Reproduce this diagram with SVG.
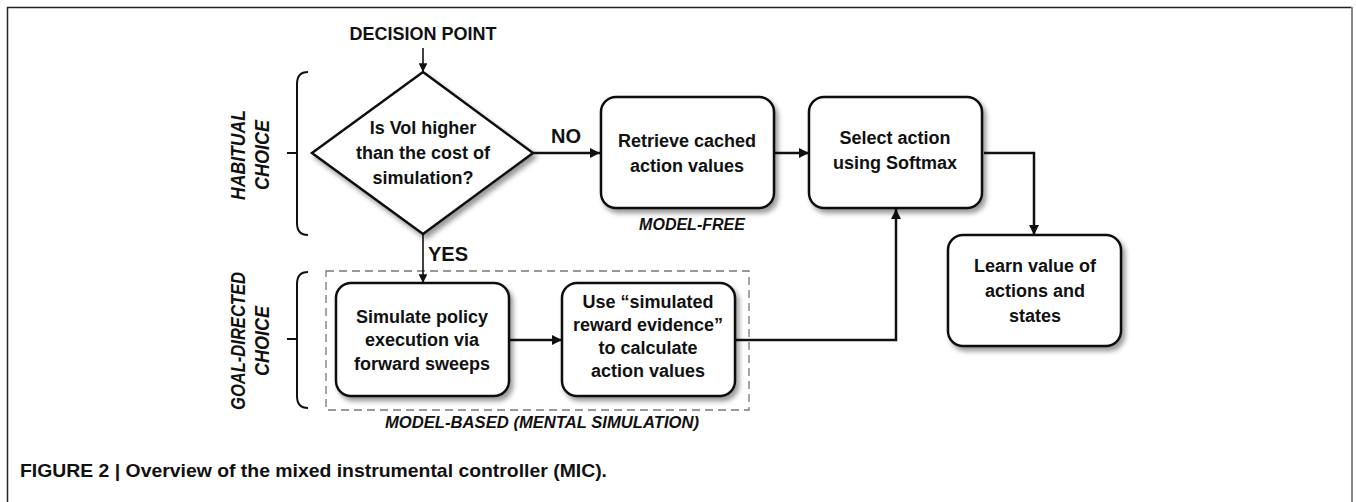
<svg xmlns="http://www.w3.org/2000/svg" width="1356" height="502" viewBox="0 0 1356 502">
<style>
.box{fill:#fff;stroke:#111;stroke-width:2.5}
.t{font-family:"Liberation Sans",Arial,sans-serif;font-weight:bold;font-size:18px;fill:#111;text-anchor:middle}
.lbl{font-family:"Liberation Sans",Arial,sans-serif;font-weight:bold;font-size:20px;fill:#111;text-anchor:middle}
.it{font-family:"Liberation Sans",Arial,sans-serif;font-weight:bold;font-style:italic;font-size:16px;fill:#111;text-anchor:middle}
.side{font-family:"Liberation Sans",Arial,sans-serif;font-weight:bold;font-style:italic;font-size:20px;fill:#111;text-anchor:middle}
.conn{fill:none;stroke:#111;stroke-width:2.5}
.thin{fill:none;stroke:#111;stroke-width:1.6}
.brace{fill:none;stroke:#111;stroke-width:2}
</style>
<defs>
<marker id="ah" viewBox="0 0 10 10" refX="10" refY="5" markerWidth="4" markerHeight="4" markerUnits="strokeWidth" orient="auto">
<path d="M0,0 L10,5 L0,10 z" fill="#111"/>
</marker>
<marker id="ah2" viewBox="0 0 10 10" refX="10" refY="5" markerWidth="5.5" markerHeight="5.5" markerUnits="strokeWidth" orient="auto">
<path d="M0,0 L10,5 L0,10 z" fill="#111"/>
</marker>
<filter id="sh" x="-10%" y="-10%" width="130%" height="130%">
<feDropShadow dx="3" dy="4" stdDeviation="2.5" flood-color="#000" flood-opacity="0.4"/>
</filter>
</defs>
<rect x="0" y="0" width="1356" height="502" fill="#fff"/>
<g id="frame">
<line x1="7" y1="7.5" x2="1352" y2="7.5" stroke="#222" stroke-width="1.5"/>
<line x1="7.5" y1="7" x2="7.5" y2="502" stroke="#222" stroke-width="1.5"/>
<line x1="1352" y1="7" x2="1352" y2="502" stroke="#888" stroke-width="2"/>
</g>
<g id="decision-point"><text class="t" x="423" y="40">DECISION POINT</text></g>
<g id="habitual-label">
<path class="brace" d="M308,72 Q297,72 297,84 L297,223 Q297,235 308,235 M287,153 L297,153"/>
<text class="side" transform="translate(245,155) rotate(-90)" textLength="90" lengthAdjust="spacingAndGlyphs">HABITUAL</text>
<text class="side" transform="translate(269,155) rotate(-90)" textLength="70" lengthAdjust="spacingAndGlyphs">CHOICE</text>
</g>
<g id="goal-label">
<path class="brace" d="M308,272 Q297,272 297,284 L297,396 Q297,408 308,408 M287,339 L297,339"/>
<text class="side" transform="translate(245,341) rotate(-90)" textLength="138" lengthAdjust="spacingAndGlyphs">GOAL-DIRECTED</text>
<text class="side" transform="translate(269,341) rotate(-90)" textLength="70" lengthAdjust="spacingAndGlyphs">CHOICE</text>
</g>
<g id="model-based-group">
<rect x="326" y="271" width="423" height="139" fill="none" stroke="#777" stroke-width="1.3" stroke-dasharray="8 5"/>
<text class="it" x="542" y="428" textLength="314" lengthAdjust="spacingAndGlyphs">MODEL-BASED (MENTAL SIMULATION)</text>
</g>
<g id="connectors">
<path class="thin" d="M423,48 L423,72" marker-end="url(#ah2)"/>
<path class="conn" d="M533,153 L600,153" marker-end="url(#ah)"/>
<path class="conn" d="M774,153 L809,153" marker-end="url(#ah)"/>
<path class="conn" d="M984,153 L1034,153 L1034,235" marker-end="url(#ah)"/>
<path class="thin" d="M423,234 L423,283" marker-end="url(#ah2)"/>
<path class="conn" d="M509,340 L562,340" marker-end="url(#ah)"/>
<path class="conn" d="M735,340 L896,340 L896,209" marker-end="url(#ah)"/>
<text class="lbl" x="566" y="143">NO</text>
<text class="lbl" x="448" y="261">YES</text>
</g>
<g id="diamond">
<polygon class="box" filter="url(#sh)" points="423,72 533,153 423,234 312,153"/>
<text class="t" x="423" y="134">Is VoI higher</text>
<text class="t" x="423" y="159">than the cost of</text>
<text class="t" x="423" y="184">simulation?</text>
</g>
<g id="retrieve">
<rect class="box" filter="url(#sh)" x="601" y="97" width="173" height="111" rx="15"/>
<text class="t" x="687" y="147">Retrieve cached</text>
<text class="t" x="687" y="172">action values</text>
<text class="it" x="692" y="230">MODEL-FREE</text>
</g>
<g id="select">
<rect class="box" filter="url(#sh)" x="809" y="97" width="173" height="111" rx="15"/>
<text class="t" x="895" y="144">Select action</text>
<text class="t" x="895" y="169">using Softmax</text>
</g>
<g id="learn">
<rect class="box" filter="url(#sh)" x="948" y="235" width="173" height="111" rx="15"/>
<text class="t" x="1035" y="272">Learn value of</text>
<text class="t" x="1035" y="297">actions and</text>
<text class="t" x="1035" y="322">states</text>
</g>
<g id="simulate">
<rect class="box" filter="url(#sh)" x="336" y="283" width="173" height="113" rx="15"/>
<text class="t" x="422" y="323">Simulate policy</text>
<text class="t" x="422" y="346">execution via</text>
<text class="t" x="422" y="370">forward sweeps</text>
</g>
<g id="use">
<rect class="box" filter="url(#sh)" x="562" y="283" width="173" height="113" rx="15"/>
<text class="t" x="648" y="308">Use “simulated</text>
<text class="t" x="648" y="331">reward evidence”</text>
<text class="t" x="648" y="354">to calculate</text>
<text class="t" x="648" y="377">action values</text>
</g>
<g id="caption">
<text x="20" y="477" font-family="'Liberation Sans',Arial,sans-serif" font-weight="bold" font-size="19" fill="#111" textLength="587" lengthAdjust="spacingAndGlyphs">FIGURE 2 | Overview of the mixed instrumental controller (MIC).</text>
</g>
</svg>
